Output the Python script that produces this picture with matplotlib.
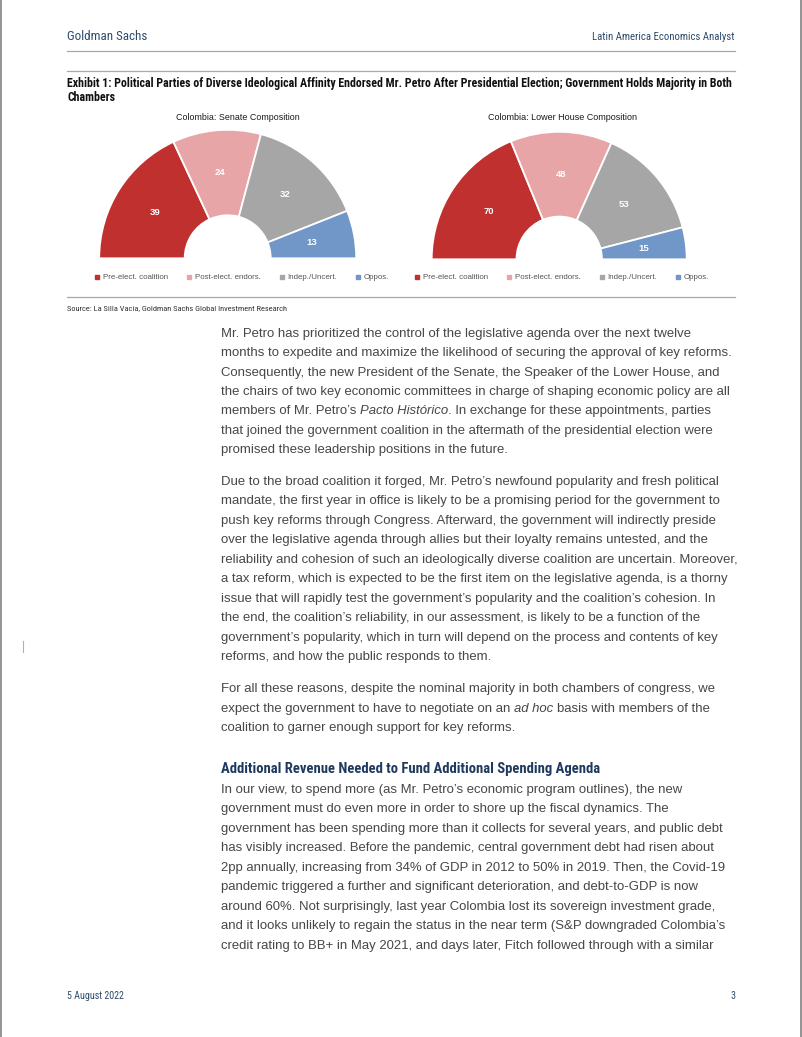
import numpy as np
import matplotlib
matplotlib.use('Agg')
import matplotlib.pyplot as plt
from matplotlib import font_manager
from matplotlib.lines import Line2D

# ---------------- data ----------------
GROUPS = ['Pre-elect. coalition', 'Post-elect. endors.', 'Indep./Uncert.', 'Oppos.']
SENATE_SEATS = [39, 24, 32, 13]
HOUSE_SEATS = [70, 48, 53, 15]
SENATE_TITLE = 'Colombia: Senate Composition'
HOUSE_TITLE = 'Colombia: Lower House Composition'
COLORS = ['#C0302F', '#E8A5A8', '#A6A6A6', '#7097C8']

HEADER_LEFT = 'Goldman Sachs'
HEADER_RIGHT = 'Latin America Economics Analyst'
EXHIBIT_TITLE = ['Exhibit 1: Political Parties of Diverse Ideological Affinity Endorsed Mr. Petro After Presidential Election; Government Holds Majority in Both',
                 'Chambers']
SOURCE = 'Source: La Silla Vacia, Goldman Sachs Global Investment Research'
FOOTER_LEFT = '5 August 2022'
FOOTER_RIGHT = '3'
HEADING = 'Additional Revenue Needed to Fund Additional Spending Agenda'

N, I = 'normal', 'italic'
PARA1 = [
    [("Mr. Petro has prioritized the control of the legislative agenda over the next twelve", N)],
    [("months to expedite and maximize the likelihood of securing the approval of key reforms.", N)],
    [("Consequently, the new President of the Senate, the Speaker of the Lower House, and", N)],
    [("the chairs of two key economic committees in charge of shaping economic policy are all", N)],
    [("members of Mr. Petro\u2019s ", N), ("Pacto Hist\u00f3rico", I), (". In exchange for these appointments, parties", N)],
    [("that joined the government coalition in the aftermath of the presidential election were", N)],
    [("promised these leadership positions in the future.", N)],
]
PARA2 = [
    [("Due to the broad coalition it forged, Mr. Petro\u2019s newfound popularity and fresh political", N)],
    [("mandate, the first year in office is likely to be a promising period for the government to", N)],
    [("push key reforms through Congress. Afterward, the government will indirectly preside", N)],
    [("over the legislative agenda through allies but their loyalty remains untested, and the", N)],
    [("reliability and cohesion of such an ideologically diverse coalition are uncertain. Moreover,", N)],
    [("a tax reform, which is expected to be the first item on the legislative agenda, is a thorny", N)],
    [("issue that will rapidly test the government\u2019s popularity and the coalition\u2019s cohesion. In", N)],
    [("the end, the coalition\u2019s reliability, in our assessment, is likely to be a function of the", N)],
    [("government\u2019s popularity, which in turn will depend on the process and contents of key", N)],
    [("reforms, and how the public responds to them.", N)],
]
PARA3 = [
    [("For all these reasons, despite the nominal majority in both chambers of congress, we", N)],
    [("expect the government to have to negotiate on an ", N), ("ad hoc", I), (" basis with members of the", N)],
    [("coalition to garner enough support for key reforms.", N)],
]
PARA4 = [
    [("In our view, to spend more (as Mr. Petro\u2019s economic program outlines), the new", N)],
    [("government must do even more in order to shore up the fiscal dynamics. The", N)],
    [("government has been spending more than it collects for several years, and public debt", N)],
    [("has visibly increased. Before the pandemic, central government debt had risen about", N)],
    [("2pp annually, increasing from 34% of GDP in 2012 to 50% in 2019. Then, the Covid-19", N)],
    [("pandemic triggered a further and significant deterioration, and debt-to-GDP is now", N)],
    [("around 60%. Not surprisingly, last year Colombia lost its sovereign investment grade,", N)],
    [("and it looks unlikely to regain the status in the near term (S&P downgraded Colombia\u2019s", N)],
    [("credit rating to BB+ in May 2021, and days later, Fitch followed through with a similar", N)],
]

# ---------------- setup ----------------
W, H = 802, 1037
fig = plt.figure(figsize=(W / 100, H / 100), dpi=100)
fig.patch.set_facecolor('white')
renderer = fig.canvas.get_renderer()

fonts = font_manager.fontManager.ttflist
available = {f.name for f in fonts}


def pick(*names):
    for n in names:
        if n in available:
            return n
    return 'DejaVu Sans'


COND = pick('Liberation Sans Narrow', 'Roboto Condensed', 'DejaVu Sans')
COND_KW = {'family': COND}
if COND == 'DejaVu Sans':
    COND_KW['stretch'] = 'condensed'
ARIAL = pick('Liberation Sans', 'Arimo', 'DejaVu Sans')
BODY = ARIAL

NAVY = '#1E3A5F'
SLATE = '#2E4A6B'
BODY_C = '#474747'
RULE_C = '#A8A8A8'


def fy(y):
    return 1 - y / H


def width_of(s, **kw):
    t = fig.text(0, 0, s, **kw)
    w = t.get_window_extent(renderer).width
    t.remove()
    return w


def fit(s, target, **kw):
    return 10 * target / width_of(s, fontsize=10, **kw)


def put(x, yc, s, fs, ha='left', **kw):
    base = yc + 0.30 * fs * 100 / 72
    return fig.text(x / W, fy(base), s, fontsize=fs, ha=ha, va='baseline', **kw)


def hline(y, x0=67, x1=735, color=RULE_C, lw=0.9):
    fig.add_artist(Line2D([x0 / W, x1 / W], [fy(y), fy(y)], color=color, lw=lw))


# ---------------- header ----------------
fs = fit(HEADER_LEFT, 80, **COND_KW)
put(67, 36, HEADER_LEFT, fs, color=SLATE, **COND_KW)
fs = fit(HEADER_RIGHT, 141, **COND_KW)
put(735, 37, HEADER_RIGHT, fs, ha='right', color=SLATE, **COND_KW)
hline(51)
hline(70.7)

fs_t = fit(EXHIBIT_TITLE[0], 663, weight='bold', **COND_KW)
put(67, 83.5, EXHIBIT_TITLE[0], fs_t, weight='bold', color='#111111', **COND_KW)
put(67, 97.5, EXHIBIT_TITLE[1], fs_t, weight='bold', color='#111111', **COND_KW)

# ---------------- charts ----------------
def half_donut(values, title, cx, cy, R, rin, title_cx, title_w, leg_x):
    m = 8
    ax = fig.add_axes([(cx - R - m) / W, 1 - (cy + R + m) / H, 2 * (R + m) / W, 2 * (R + m) / H])
    vals = list(values) + [sum(values)]
    ring = 1 - rin / R
    wedges, _ = ax.pie(vals, colors=COLORS + ['white'], startangle=180, counterclock=False,
                       radius=1, wedgeprops=dict(width=ring, edgecolor='white', linewidth=1.3))
    wedges[-1].set_visible(False)
    for w, v in zip(wedges[:-1], values):
        mid = np.deg2rad((w.theta1 + w.theta2) / 2)
        r = 1 - ring / 2
        ax.text(r * np.cos(mid), r * np.sin(mid), str(v), ha='center', va='center',
                color='white', fontsize=6.8, fontweight='bold', family=ARIAL)
    lim = (R + m) / R
    ax.set_xlim(-lim, lim)
    ax.set_ylim(-lim, lim)
    ax.axis('off')
    tfs = fit(title, title_w, family=ARIAL)
    put(title_cx, 117.5, title, tfs, ha='center', color='#1a1a1a', family=ARIAL)
    lfs = fit(GROUPS[0], 65.5, family=ARIAL)
    handles = [Line2D([], [], marker='s', ls='', color=c, markersize=2.3) for c in COLORS]
    em = lfs * 100 / 72
    fig.legend(handles, GROUPS, loc='center left', bbox_to_anchor=((leg_x - 1) / W, fy(277.5)),
               ncol=4, frameon=False, fontsize=lfs, handlelength=0.3, handleheight=0.5,
               handletextpad=0.55, columnspacing=20.0 / em, borderaxespad=0, borderpad=0,
               labelcolor='#555555', prop={'family': ARIAL, 'size': lfs})


half_donut(SENATE_SEATS, SENATE_TITLE, 227.7, 258.3, 128.5, 43, 238.3, 123, 97)
half_donut(HOUSE_SEATS, HOUSE_TITLE, 559.2, 259.3, 127.5, 42.7, 562.3, 148.5, 417)

# ---------------- source ----------------
hline(297.3)
fs = fit(SOURCE, 221, **COND_KW)
put(67, 307.5, SOURCE, fs, color='#333333', **COND_KW)

# ---------------- body text ----------------
body_kw = dict(family=BODY)
BFS = fit(PARA1[1][0][0], 511, **body_kw)
space_w = width_of('a a', fontsize=BFS, **body_kw) - width_of('aa', fontsize=BFS, **body_kw)


def draw_line(x, yc, runs, fs=BFS, color=BODY_C):
    cur = x
    for txt, style in runs:
        lead = len(txt) - len(txt.lstrip(' '))
        trail = len(txt) - len(txt.rstrip(' '))
        core = txt.strip(' ')
        cur += lead * space_w
        t = put(cur, yc, core, fs, color=color, style=style, **body_kw)
        cur += t.get_window_extent(renderer).width + trail * space_w


LINE = 19.45
X0 = 221
for i, ln in enumerate(PARA1):
    draw_line(X0, 332.7 + LINE * i, ln)
for i, ln in enumerate(PARA2):
    draw_line(X0, 481.0 + LINE * i, ln)
for i, ln in enumerate(PARA3):
    draw_line(X0, 688.3 + LINE * i, ln)

hfs = fit(HEADING, 378, weight='bold', **COND_KW)
put(X0, 769, HEADING, hfs, weight='bold', color=NAVY, **COND_KW)

for i, ln in enumerate(PARA4):
    draw_line(X0, 789.0 + LINE * i, ln)

# ---------------- footer ----------------
fs = fit(FOOTER_LEFT, 57, **COND_KW)
put(67, 996, FOOTER_LEFT, fs, color=SLATE, **COND_KW)
put(735, 996, FOOTER_RIGHT, fs, ha='right', color=SLATE, **COND_KW)

# page edges and margin mark
fig.add_artist(Line2D([0.6 / W, 0.6 / W], [0, 1], color='#808080', lw=1.2))
fig.add_artist(Line2D([1 - 0.6 / W, 1 - 0.6 / W], [0, 1], color='#808080', lw=1.2))
fig.add_artist(Line2D([22.5 / W, 22.5 / W], [fy(641), fy(652)], color='#B0B0B0', lw=0.8))

fig.savefig('out.png', dpi=100, facecolor='white')
